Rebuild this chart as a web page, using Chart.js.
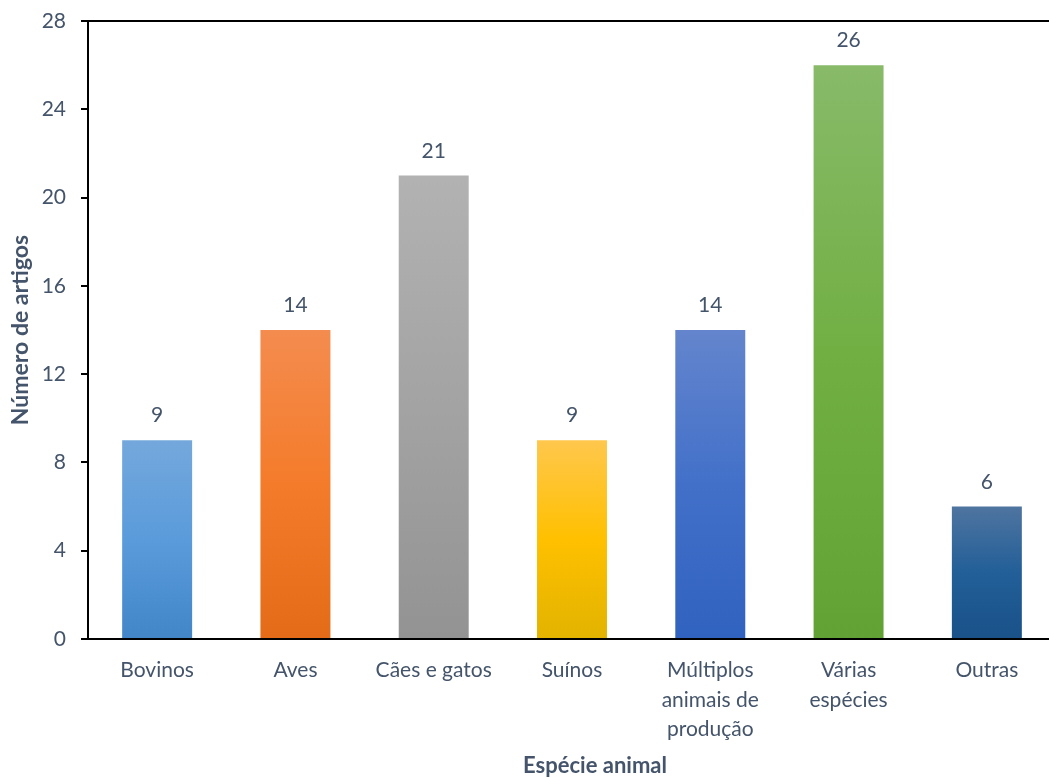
<!DOCTYPE html>
<html lang="pt">
<head>
<meta charset="utf-8">
<title>Número de artigos por espécie animal</title>
<script src="https://cdn.jsdelivr.net/npm/chart.js@4"></script>
<style>
  html, body { margin: 0; padding: 0; background: #fff; overflow: hidden; }
  #wrap { width: 1056px; height: 778px; }
</style>
</head>
<body>
<div id="wrap"><canvas id="chart" width="1056" height="778"></canvas></div>
<script>
// Categorias e contagens
const species = ['Bovinos', 'Aves', 'Cães e gatos', 'Suínos', ['Múltiplos', 'animais de', 'produção'], ['Várias', 'espécies'], 'Outras'];
const counts = [9, 14, 21, 9, 14, 26, 6];
const yTicks = [0, 4, 8, 12, 16, 20, 24, 28];

// Cores do degradê de cada barra (topo, meio, base)
const barShades = [
    ['#74a8dc', '#5a9bdb', '#4286c8'],
    ['#f48c4f', '#f47b2a', '#e46b17'],
    ['#b2b2b2', '#a3a3a3', '#939393'],
    ['#ffc74d', '#ffc000', '#e2b300'],
    ['#6485cd', '#4270c9', '#3062bf'],
    ['#88ba69', '#71af43', '#62a234'],
    ['#4f74a0', '#225f98', '#1a5189']
];

const textColor = '#44546a';
const fontFamily = 'Lato, "Open Sans", sans-serif';
const xTitle = 'Espécie animal';

// Degradê vertical do topo da barra até a base
const barFill = (context) => {
    const chart = context.chart;
    const i = context.dataIndex;
    if (!chart.chartArea || i === undefined || !chart.scales.y) return barShades[0][1];
    const y = chart.scales.y;
    const top = y.getPixelForValue(counts[i]);
    const base = y.getPixelForValue(0);
    const g = chart.ctx.createLinearGradient(0, top, 0, base);
    g.addColorStop(0, barShades[i][0]);
    g.addColorStop(0.5, barShades[i][1]);
    g.addColorStop(1, barShades[i][2]);
    return g;
};

// Rótulos de valor acima das barras e título do eixo X
const valueLabels = {
    id: 'valueLabels',
    afterDatasetsDraw(chart) {
        const ctx = chart.ctx;
        const meta = chart.getDatasetMeta(0);
        ctx.save();
        ctx.font = `21px ${fontFamily}`;
        ctx.fillStyle = textColor;
        ctx.textAlign = 'center';
        ctx.textBaseline = 'alphabetic';
        meta.data.forEach((bar, i) => {
            ctx.fillText(String(counts[i]), bar.x, bar.y - 18);
        });
        // o título fica um pouco à direita do centro da área do gráfico
        ctx.font = `bold 22px ${fontFamily}`;
        ctx.fillText(xTitle, 595, 773);
        ctx.restore();
    }
};

new Chart(document.getElementById('chart'), {
    type: 'bar',
    data: {
        labels: species,
        datasets: [{
            data: counts,
            backgroundColor: barFill,
            borderWidth: 0,
            categoryPercentage: 1,
            barPercentage: 0.506
        }]
    },
    options: {
        responsive: false,
        animation: false,
        layout: { padding: { top: 21, right: 0, bottom: 0, left: 0 } },
        plugins: {
            legend: { display: false },
            tooltip: { enabled: false }
        },
        scales: {
            x: {
                grid: { display: false, drawTicks: false },
                border: { color: '#000', width: 2 },
                ticks: {
                    color: textColor,
                    font: { family: fontFamily, size: 21, lineHeight: 1.4 },
                    padding: 17,
                    maxRotation: 0
                },
                afterFit: (scale) => { scale.height = 139; }
            },
            y: {
                min: 0,
                max: 28,
                afterBuildTicks: (scale) => { scale.ticks = yTicks.map(v => ({ value: v })); },
                grid: {
                    color: (c) => (c.tick && c.tick.value === 28 ? '#000' : 'rgba(0,0,0,0)'),
                    tickColor: '#000',
                    lineWidth: 2,
                    tickLength: 7
                },
                border: { color: '#000', width: 2 },
                ticks: {
                    color: textColor,
                    font: { family: fontFamily, size: 21 },
                    padding: 15
                },
                title: {
                    display: true,
                    text: 'Número de artigos',
                    color: textColor,
                    font: { family: fontFamily, size: 23, weight: 'bold' },
                    padding: { top: 7, bottom: 0 }
                },
                afterFit: (scale) => {
                    scale.width = 88;
                    scale.paddingTop = 0;
                    scale.paddingBottom = 0;
                }
            }
        }
    },
    plugins: [valueLabels]
});
</script>
</body>
</html>
